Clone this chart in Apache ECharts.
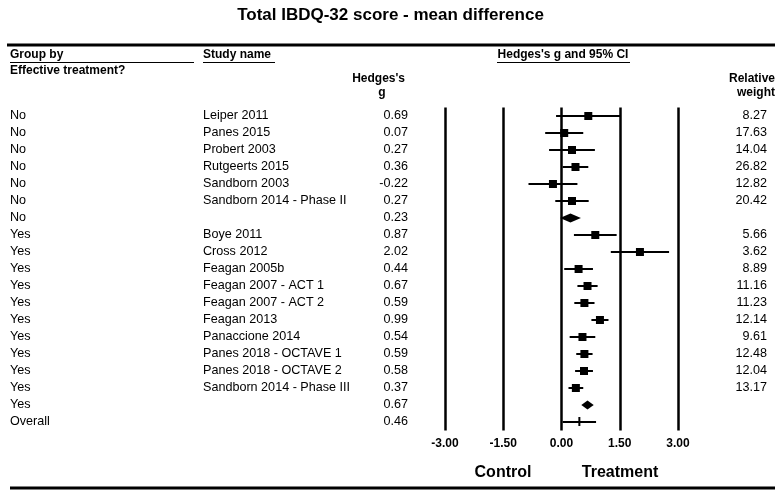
<!DOCTYPE html>
<html>
<head>
<meta charset="utf-8">
<script src="https://cdn.jsdelivr.net/npm/echarts@6/dist/echarts.min.js"></script>
<style>
  html, body { margin: 0; padding: 0; background: #fff; }
  #chart { width: 781px; height: 497px; }
</style>
</head>
<body>
<div id="chart"></div>
<script>
// rows of the forest plot, top to bottom
const groups = ['No','No','No','No','No','No','No',
  'Yes','Yes','Yes','Yes','Yes','Yes','Yes','Yes','Yes','Yes','Yes','Overall'];
const studies = ['Leiper 2011','Panes 2015','Probert 2003','Rutgeerts 2015','Sandborn 2003','Sandborn 2014 - Phase II','',
  'Boye 2011','Cross 2012','Feagan 2005b','Feagan 2007 - ACT 1','Feagan 2007 - ACT 2','Feagan 2013','Panaccione 2014',
  'Panes 2018 - OCTAVE 1','Panes 2018 - OCTAVE 2','Sandborn 2014 - Phase III','',''];
const hedges = [0.69, 0.07, 0.27, 0.36, -0.22, 0.27, 0.23,
  0.87, 2.02, 0.44, 0.67, 0.59, 0.99, 0.54, 0.59, 0.58, 0.37, 0.67, 0.46];
// 95% CI
const lower = [-0.14, -0.42, -0.32, 0.03, -0.85, -0.16, -0.04,
  0.32, 1.27, 0.07, 0.41, 0.33, 0.77, 0.21, 0.38, 0.35, 0.18, 0.51, 0.03];
const upper = [1.52, 0.56, 0.86, 0.69, 0.41, 0.70, 0.50,
  1.42, 2.77, 0.81, 0.93, 0.85, 1.21, 0.87, 0.80, 0.81, 0.56, 0.83, 0.89];
const weights = ['8.27','17.63','14.04','26.82','12.82','20.42','',
  '5.66','3.62','8.89','11.16','11.23','12.14','9.61','12.48','12.04','13.17','',''];
// study = square, summary = diamond, overall = line with tick
const kinds = ['study','study','study','study','study','study','summary',
  'study','study','study','study','study','study','study','study','study','study','summary','overall'];

const FONT = '"Liberation Sans", Arial, sans-serif';
const rowIdx = hedges.map((_, i) => String(i));

const chart = echarts.init(document.getElementById('chart'), null, { renderer: 'canvas' });

function markItem(params, api) {
  const i = api.value(1);
  const c = api.coord([api.value(0), i]);
  const lo = api.coord([api.value(2), i]);
  const hi = api.coord([api.value(3), i]);
  const kind = kinds[params.dataIndex];
  const black = { stroke: '#000', lineWidth: 2 };
  if (kind === 'summary') {
    return {
      type: 'polygon',
      shape: { points: [[lo[0], c[1]], [c[0], c[1] - 4.5], [hi[0], c[1]], [c[0], c[1] + 4.5]] },
      style: { fill: '#000' }
    };
  }
  const children = [{
    type: 'line',
    shape: { x1: lo[0], y1: c[1], x2: hi[0], y2: c[1] },
    style: black
  }];
  if (kind === 'overall') {
    children.push({
      type: 'line',
      shape: { x1: c[0], y1: c[1] - 5, x2: c[0], y2: c[1] + 4 },
      style: black
    });
  } else {
    children.push({
      type: 'rect',
      shape: { x: c[0] - 4, y: c[1] - 4, width: 8, height: 8 },
      style: { fill: '#000' }
    });
  }
  return { type: 'group', children: children };
}

function textItem(params, api) {
  const i = params.dataIndex;
  const y = api.coord([0, i])[1];
  const base = { font: '12.6px ' + FONT, fill: '#000', verticalAlign: 'middle' };
  return {
    type: 'group',
    children: [
      { type: 'text', style: Object.assign({ text: groups[i], x: 10, y: y, align: 'left' }, base) },
      { type: 'text', style: Object.assign({ text: studies[i], x: 203, y: y, align: 'left' }, base) },
      { type: 'text', style: Object.assign({ text: hedges[i].toFixed(2), x: 408, y: y, align: 'right' }, base) },
      { type: 'text', style: Object.assign({ text: weights[i], x: 767, y: y, align: 'right' }, base) }
    ]
  };
}

const bold = (size) => 'bold ' + size + 'px ' + FONT;

chart.setOption({
  animation: false,
  backgroundColor: '#fff',
  grid: { left: 445, right: 103, top: 107.5, bottom: 66.5 },
  xAxis: {
    type: 'value',
    min: -3, max: 3, interval: 1.5,
    axisLine: { show: false },
    axisTick: { show: false },
    splitLine: { show: true, lineStyle: { color: '#000', width: 2.5 } },
    axisLabel: {
      color: '#000', fontFamily: FONT, fontWeight: 'bold', fontSize: 12, margin: 7,
      formatter: v => v.toFixed(2)
    }
  },
  yAxis: {
    type: 'category', data: rowIdx, inverse: true, show: false
  },
  graphic: [
    { type: 'text', left: 'center', top: 7, style: { text: 'Total IBDQ-32 score - mean difference', font: bold(17), fill: '#000' } },
    { type: 'line', shape: { x1: 7, y1: 45, x2: 775, y2: 45 }, style: { stroke: '#000', lineWidth: 3 } },
    { type: 'text', x: 10, y: 55, style: { text: 'Group by', font: bold(12), fill: '#000', verticalAlign: 'middle' } },
    { type: 'line', shape: { x1: 10, y1: 62.5, x2: 194, y2: 62.5 }, style: { stroke: '#000', lineWidth: 1 } },
    { type: 'text', x: 10, y: 71, style: { text: 'Effective treatment?', font: bold(12), fill: '#000', verticalAlign: 'middle' } },
    { type: 'text', x: 203, y: 55, style: { text: 'Study name', font: bold(12), fill: '#000', verticalAlign: 'middle' } },
    { type: 'line', shape: { x1: 203, y1: 62.5, x2: 275, y2: 62.5 }, style: { stroke: '#000', lineWidth: 1 } },
    { type: 'text', x: 563, y: 55, style: { text: "Hedges's g and 95% CI", font: bold(12), fill: '#000', align: 'center', verticalAlign: 'middle' } },
    { type: 'line', shape: { x1: 497, y1: 62.5, x2: 630, y2: 62.5 }, style: { stroke: '#000', lineWidth: 1 } },
    { type: 'text', x: 405, y: 79, style: { text: "Hedges's", font: bold(12), fill: '#000', align: 'right', verticalAlign: 'middle' } },
    { type: 'text', x: 382, y: 93, style: { text: 'g', font: bold(12), fill: '#000', align: 'center', verticalAlign: 'middle' } },
    { type: 'text', x: 775, y: 79, style: { text: 'Relative', font: bold(12), fill: '#000', align: 'right', verticalAlign: 'middle' } },
    { type: 'text', x: 775, y: 93, style: { text: 'weight', font: bold(12), fill: '#000', align: 'right', verticalAlign: 'middle' } },
    { type: 'text', x: 503, y: 473, style: { text: 'Control', font: bold(16), fill: '#000', align: 'center', verticalAlign: 'middle' } },
    { type: 'text', x: 620, y: 473, style: { text: 'Treatment', font: bold(16), fill: '#000', align: 'center', verticalAlign: 'middle' } },
    { type: 'line', shape: { x1: 10, y1: 488, x2: 775, y2: 488 }, style: { stroke: '#000', lineWidth: 3 } }
  ],
  series: [
    {
      type: 'custom',
      name: 'marks',
      clip: false,
      renderItem: markItem,
      encode: { x: 0, y: 1 },
      data: hedges.map((g, i) => [g, i, lower[i], upper[i]])
    },
    {
      type: 'custom',
      name: 'text',
      clip: false,
      silent: true,
      renderItem: textItem,
      encode: { x: 0, y: 1 },
      data: hedges.map((g, i) => [0, i])
    }
  ]
});
</script>
</body>
</html>
